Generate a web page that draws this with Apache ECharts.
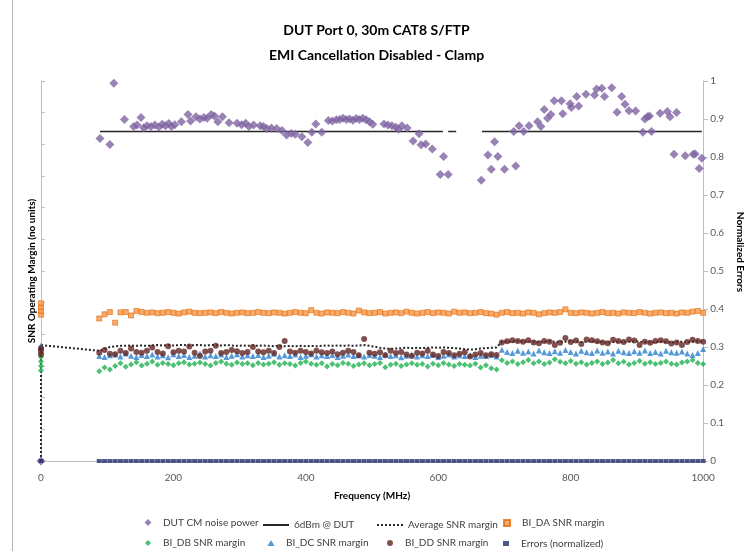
<!DOCTYPE html>
<html>
<head>
<meta charset="utf-8">
<script src="https://cdn.jsdelivr.net/npm/echarts@6/dist/echarts.min.js"></script>
<style>html,body{margin:0;padding:0;background:#fff}#c{width:753px;height:551px}</style>
</head>
<body>
<div id="c"></div>
<script>
// ---------- DATA ----------
const titleLines = ['DUT Port 0, 30m CAT8 S/FTP', 'EMI Cancellation Disabled - Clamp'];
const xTicks = [0, 200, 400, 600, 800, 1000];
const rightTicks = [0, 0.1, 0.2, 0.3, 0.4, 0.5, 0.6, 0.7, 0.8, 0.9, 1];

// DUT CM noise power (own frequency list)
const cmFreq = [0,89,104,110,126,140,145,151,155,160,166,172,178,183,188,193,197,202,212,222,226,234,240,246,251,257,262,267,274,284,296,303,309,314,321,331,336,341,348,356,364,371,378,384,394,403,409,415,424,434,440,446,451,456,461,466,471,476,481,486,491,496,501,518,524,530,536,540,545,553,562,571,574,581,591,603,608,615,665,675,680,685,690,700,714,717,722,729,737,750,755,760,765,770,775,786,788,799,801,809,812,823,836,839,847,851,862,870,877,882,888,898,909,912,916,919,922,935,946,950,956,960,973,985,988,994,998];
const cmNoise = [0,0.849,0.833,0.994,0.899,0.880,0.884,0.904,0.877,0.882,0.880,0.884,0.879,0.886,0.882,0.888,0.880,0.885,0.893,0.912,0.895,0.906,0.900,0.904,0.902,0.912,0.908,0.893,0.906,0.890,0.889,0.885,0.889,0.880,0.884,0.882,0.880,0.875,0.876,0.875,0.870,0.858,0.862,0.860,0.853,0.838,0.865,0.887,0.865,0.896,0.895,0.898,0.899,0.902,0.899,0.900,0.897,0.901,0.899,0.902,0.898,0.893,0.886,0.887,0.884,0.882,0.878,0.873,0.882,0.876,0.842,0.861,0.832,0.834,0.821,0.754,0.801,0.754,0.739,0.805,0.768,0.840,0.801,0.768,0.867,0.776,0.882,0.867,0.882,0.893,0.880,0.925,0.902,0.912,0.948,0.948,0.914,0.940,0.930,0.959,0.934,0.965,0.963,0.979,0.981,0.959,0.982,0.918,0.959,0.939,0.922,0.921,0.865,0.900,0.906,0.908,0.867,0.915,0.920,0.906,0.807,0.917,0.803,0.807,0.808,0.770,0.797];

// 6dBm @ DUT reference line (null = gap)
const refFreq = [89, 607, 611, 615, 627, 646, 666, 998];
const refVal  = [0.867, 0.867, null, 0.867, 0.867, null, 0.867, 0.867];

// Shared frequency grid for SNR margins and errors (MHz)
const freq = [88,96,104,112,120,128,136,144,152,160,168,176,184,192,200,208,216,224,232,240,248,256,264,272,280,288,296,304,312,320,328,336,344,352,360,368,376,384,392,400,408,416,424,432,440,448,456,464,472,480,488,496,504,512,520,528,536,544,552,560,568,576,584,592,600,608,616,624,632,640,648,656,664,672,680,688,696,704,712,720,728,736,744,752,760,768,776,784,792,800,808,816,824,832,840,848,856,864,872,880,888,896,904,912,920,928,936,944,952,960,968,976,984,992,1000];

const avgMargin = [0.290,0.295,0.300,0.302,0.303,0.303,0.304,0.303,0.304,0.303,
0.304,0.305,0.304,0.305,0.304,0.305,0.305,0.304,0.305,0.305,
0.304,0.305,0.305,0.304,0.305,0.304,0.303,0.304,0.303,0.304,
0.303,0.304,0.303,0.302,0.303,0.302,0.303,0.302,0.303,0.302,
0.303,0.302,0.303,0.304,0.303,0.304,0.303,0.304,0.303,0.304,
0.305,0.303,0.301,0.298,0.296,0.295,0.296,0.297,0.298,0.297,
0.298,0.297,0.298,0.299,0.298,0.299,0.298,0.297,0.296,0.294,
0.293,0.294,0.296,0.297,0.298,0.299,0.313,0.314,0.314,0.315,
0.314,0.315,0.314,0.313,0.314,0.315,0.314,0.313,0.314,0.315,
0.314,0.313,0.314,0.315,0.314,0.313,0.312,0.313,0.314,0.313,
0.314,0.315,0.314,0.313,0.312,0.313,0.314,0.313,0.312,0.313,
0.314,0.313,0.314,0.315,0.314];
const avgZeroFreq = [0, 0];
const avgZeroVal = [0, 0.305];

const biDA = [0.375,0.386,0.392,0.364,0.391,0.392,0.383,0.395,0.392,0.390,
0.391,0.389,0.390,0.392,0.390,0.388,0.391,0.393,0.390,0.389,
0.390,0.391,0.389,0.392,0.390,0.388,0.390,0.391,0.389,0.390,
0.392,0.390,0.389,0.391,0.390,0.388,0.390,0.392,0.390,0.389,
0.397,0.390,0.388,0.391,0.390,0.389,0.392,0.390,0.388,0.396,
0.391,0.389,0.390,0.392,0.388,0.390,0.391,0.389,0.393,0.390,
0.388,0.390,0.392,0.389,0.391,0.390,0.388,0.393,0.390,0.391,
0.389,0.390,0.392,0.389,0.388,0.385,0.390,0.392,0.389,0.390,
0.388,0.391,0.390,0.386,0.389,0.391,0.390,0.392,0.399,0.390,
0.389,0.391,0.390,0.388,0.390,0.392,0.389,0.390,0.388,0.391,
0.390,0.389,0.392,0.390,0.388,0.390,0.391,0.389,0.390,0.388,
0.391,0.390,0.393,0.395,0.390];
const biDB = [0.236,0.246,0.241,0.250,0.257,0.248,0.254,0.260,0.251,0.256,
0.262,0.253,0.258,0.255,0.252,0.257,0.260,0.254,0.256,0.259,
0.255,0.251,0.258,0.262,0.256,0.253,0.259,0.255,0.257,0.252,
0.258,0.254,0.256,0.260,0.253,0.257,0.255,0.251,0.258,0.262,
0.256,0.253,0.257,0.249,0.255,0.252,0.258,0.256,0.250,0.254,
0.257,0.252,0.255,0.258,0.247,0.253,0.256,0.250,0.254,0.257,
0.253,0.255,0.249,0.256,0.252,0.258,0.254,0.250,0.255,0.253,
0.251,0.256,0.246,0.252,0.244,0.241,0.265,0.258,0.262,0.255,
0.260,0.266,0.257,0.262,0.255,0.259,0.268,0.261,0.257,0.263,
0.256,0.260,0.254,0.258,0.262,0.255,0.259,0.266,0.257,0.261,
0.254,0.258,0.263,0.256,0.260,0.255,0.258,0.262,0.256,0.254,
0.259,0.262,0.266,0.258,0.255];
const biDC = [0.276,0.274,0.278,0.280,0.275,0.283,0.277,0.274,0.279,0.276,
0.280,0.275,0.278,0.273,0.281,0.276,0.279,0.274,0.277,0.283,
0.275,0.278,0.276,0.280,0.274,0.277,0.281,0.275,0.278,0.276,
0.279,0.274,0.277,0.282,0.275,0.278,0.276,0.280,0.274,0.277,
0.281,0.275,0.278,0.276,0.279,0.274,0.277,0.280,0.276,0.278,
0.275,0.279,0.277,0.274,0.280,0.276,0.278,0.273,0.277,0.281,
0.275,0.278,0.276,0.279,0.274,0.277,0.280,0.275,0.278,0.276,
0.279,0.274,0.277,0.276,0.279,0.275,0.293,0.287,0.284,0.290,
0.285,0.288,0.283,0.291,0.286,0.284,0.289,0.285,0.292,0.287,
0.283,0.290,0.286,0.284,0.291,0.285,0.288,0.283,0.290,0.286,
0.284,0.289,0.285,0.291,0.284,0.287,0.283,0.290,0.286,0.285,
0.288,0.283,0.279,0.284,0.295];
const biDD = [0.285,0.292,0.282,0.281,0.290,0.284,0.296,0.287,0.285,0.290,
0.299,0.287,0.283,0.302,0.286,0.290,0.288,0.301,0.285,0.276,
0.288,0.290,0.303,0.284,0.287,0.292,0.289,0.284,0.287,0.300,
0.288,0.286,0.290,0.284,0.300,0.316,0.288,0.285,0.290,0.287,
0.283,0.290,0.286,0.284,0.288,0.281,0.285,0.290,0.287,0.278,
0.321,0.285,0.282,0.286,0.278,0.290,0.284,0.287,0.280,0.276,
0.285,0.283,0.290,0.280,0.276,0.287,0.284,0.278,0.282,0.286,
0.275,0.280,0.284,0.278,0.281,0.279,0.312,0.315,0.318,0.316,
0.314,0.318,0.312,0.310,0.316,0.314,0.305,0.311,0.324,0.313,
0.317,0.308,0.320,0.318,0.315,0.312,0.310,0.319,0.316,0.313,
0.320,0.317,0.305,0.314,0.311,0.316,0.318,0.315,0.309,0.312,
0.305,0.313,0.319,0.316,0.314];
const errorsNorm = [0,0,0,0,0,0,0,0,0,0,0,0,0,0,0,0,0,0,0,0,0,0,0,0,0,0,0,0,0,0,0,0,0,0,0,0,0,0,0,0,0,0,0,0,0,0,0,0,0,0,0,0,0,0,0,0,0,0,0,0,0,0,0,0,0,0,0,0,0,0,0,0,0,0,0,0,0,0,0,0,0,0,0,0,0,0,0,0,0,0,0,0,0,0,0,0,0,0,0,0,0,0,0,0,0,0,0,0,0,0,0,0,0,0,0];

// values stacked at 0 MHz
const zeroDA = [0.385, 0.395, 0.405, 0.415];
const zeroDB = [0.238, 0.250, 0.262, 0.274, 0.283];
const zeroDC = [0.304, 0.298];
const zeroDD = [0.280, 0.290, 0.297];
const zeroErr = [0];

// ---------- BUILD ----------
const pairs = (xs, ys) => xs.map((x, i) => [x, ys[i]]);
const atZero = ys => ys.map(v => [0, v]);
const FONT = 'Lato, "Liberation Sans", sans-serif';

const names = ['DUT CM noise power','6dBm @ DUT','Average SNR margin','BI_DA SNR margin',
               'BI_DB SNR margin','BI_DC SNR margin','BI_DD SNR margin','Errors (normalized)'];
// legend layout: [icon centre x, row centre y, icon w, icon h, isLine]
const legendLayout = [
  [148, 521, 7, 7, false], [275, 521, 26, 2, true], [389, 521, 26, 2, true], [506, 521, 6, 6, false],
  [148, 541, 6, 6, false], [271, 541, 7, 6, false], [390, 541, 6, 6, false], [506, 541, 6, 5, false]
];
const legends = names.map((n, i) => {
  const [cx, cy, w, h, isLine] = legendLayout[i];
  const lg = {
    data: [n], left: cx - w / 2, top: cy - h / 2, padding: 0,
    itemWidth: w, itemHeight: h, itemGap: 0, selectedMode: false,
    textStyle: { fontFamily: FONT, fontSize: 10, color: '#404040',
                 padding: [0, 0, 0, isLine ? 0 : Math.max(0, 10 - w / 2)] }
  };
  if (isLine) lg.itemStyle = { color: 'rgba(0,0,0,0)', borderWidth: 0, opacity: 0 };
  return lg;
});

const chart = echarts.init(document.getElementById('c'), null, { renderer: 'canvas' });
chart.setOption({
  animation: false,
  backgroundColor: '#fff',
  title: [
    { text: titleLines[0], left: 'center', top: 18, textStyle: { fontFamily: FONT, fontSize: 14, fontWeight: 'bold', color: '#000' } },
    { text: titleLines[1], left: 'center', top: 43, textStyle: { fontFamily: FONT, fontSize: 14, fontWeight: 'bold', color: '#000' } }
  ],
  legend: legends,
  graphic: [
    { type: 'line', shape: { x1: 12.5, y1: 0, x2: 12.5, y2: 551 }, style: { stroke: '#b3b3b3', lineWidth: 1 }, silent: true }
  ],
  grid: { left: 41, right: 42, top: 81, bottom: 90, containLabel: false },
  xAxis: {
    type: 'value', min: 0, max: 1000, interval: 200,
    name: 'Frequency (MHz)', nameLocation: 'middle', nameGap: 30,
    nameTextStyle: { fontFamily: FONT, fontSize: 10, fontWeight: 'bold', color: '#000' },
    axisLine: { lineStyle: { color: '#bfbfbf', width: 1 } },
    axisTick: { show: false },
    splitLine: { show: false },
    axisLabel: { fontFamily: FONT, fontSize: 10, color: '#595959', margin: 12,
      formatter: v => xTicks.includes(v) ? String(v) : '' }
  },
  yAxis: [
    { type: 'value', min: 0, max: 12, interval: 1, position: 'left',
      name: 'SNR Operating Margin (no units)', nameLocation: 'middle', nameGap: 4,
      nameTextStyle: { fontFamily: FONT, fontSize: 10, fontWeight: 'bold', color: '#000' },
      axisLine: { show: true, lineStyle: { color: '#bfbfbf' } },
      axisTick: { show: true, inside: true, length: 4, lineStyle: { color: '#bfbfbf' } },
      axisLabel: { show: false }, splitLine: { show: false } },
    { type: 'value', min: 0, max: 1, interval: 0.1, position: 'right',
      name: 'Normalized Errors', nameLocation: 'middle', nameGap: 30, nameRotate: -90,
      nameTextStyle: { fontFamily: FONT, fontSize: 10, fontWeight: 'bold', color: '#000', padding: [0, 38, 0, 0] },
      axisLine: { show: true, lineStyle: { color: '#bfbfbf' } },
      axisTick: { show: true, length: 5, lineStyle: { color: '#bfbfbf' } },
      axisLabel: { fontFamily: FONT, fontSize: 10, color: '#595959', margin: 7,
        formatter: v => { const t = rightTicks.find(r => Math.abs(r - v) < 1e-9); return t === undefined ? '' : String(t); } },
      splitLine: { show: false } }
  ],
  series: [
    { name: names[0], type: 'scatter', yAxisIndex: 1, symbol: 'diamond', symbolSize: 9,
      itemStyle: { color: '#8064a2' }, data: pairs(cmFreq, cmNoise), z: 5 },
    { name: names[1], type: 'line', yAxisIndex: 1, symbol: 'none', connectNulls: false,
      lineStyle: { color: '#262626', width: 1.5 }, itemStyle: { color: '#262626' },
      data: pairs(refFreq, refVal), z: 4 },
    { name: names[2], type: 'line', yAxisIndex: 1, symbol: 'none',
      lineStyle: { color: '#262626', width: 2, type: [2, 2] }, itemStyle: { color: '#262626' },
      data: pairs(avgZeroFreq, avgZeroVal).concat(pairs(freq, avgMargin)), z: 3 },
    { name: names[3], type: 'scatter', yAxisIndex: 1, symbol: 'rect', symbolSize: 5,
      itemStyle: { color: '#f79646', borderColor: '#e46c0a', borderWidth: 0.8 },
      data: atZero(zeroDA).concat(pairs(freq, biDA)), z: 6 },
    { name: names[4], type: 'scatter', yAxisIndex: 1, symbol: 'diamond', symbolSize: 6,
      itemStyle: { color: '#1fb050' }, data: atZero(zeroDB).concat(pairs(freq, biDB)), z: 6 },
    { name: names[5], type: 'scatter', yAxisIndex: 1, symbol: 'triangle', symbolSize: 6,
      itemStyle: { color: '#2a7fd0' }, data: atZero(zeroDC).concat(pairs(freq, biDC)), z: 6 },
    { name: names[6], type: 'scatter', yAxisIndex: 1, symbol: 'circle', symbolSize: 6,
      itemStyle: { color: '#632523' }, data: atZero(zeroDD).concat(pairs(freq, biDD)), z: 7 },
    { name: names[7], type: 'scatter', yAxisIndex: 1, symbol: 'rect', symbolSize: [5, 4],
      itemStyle: { color: '#1f2f6b' }, data: atZero(zeroErr).concat(pairs(freq, errorsNorm)), z: 8 }
  ]
});
</script>
</body>
</html>
